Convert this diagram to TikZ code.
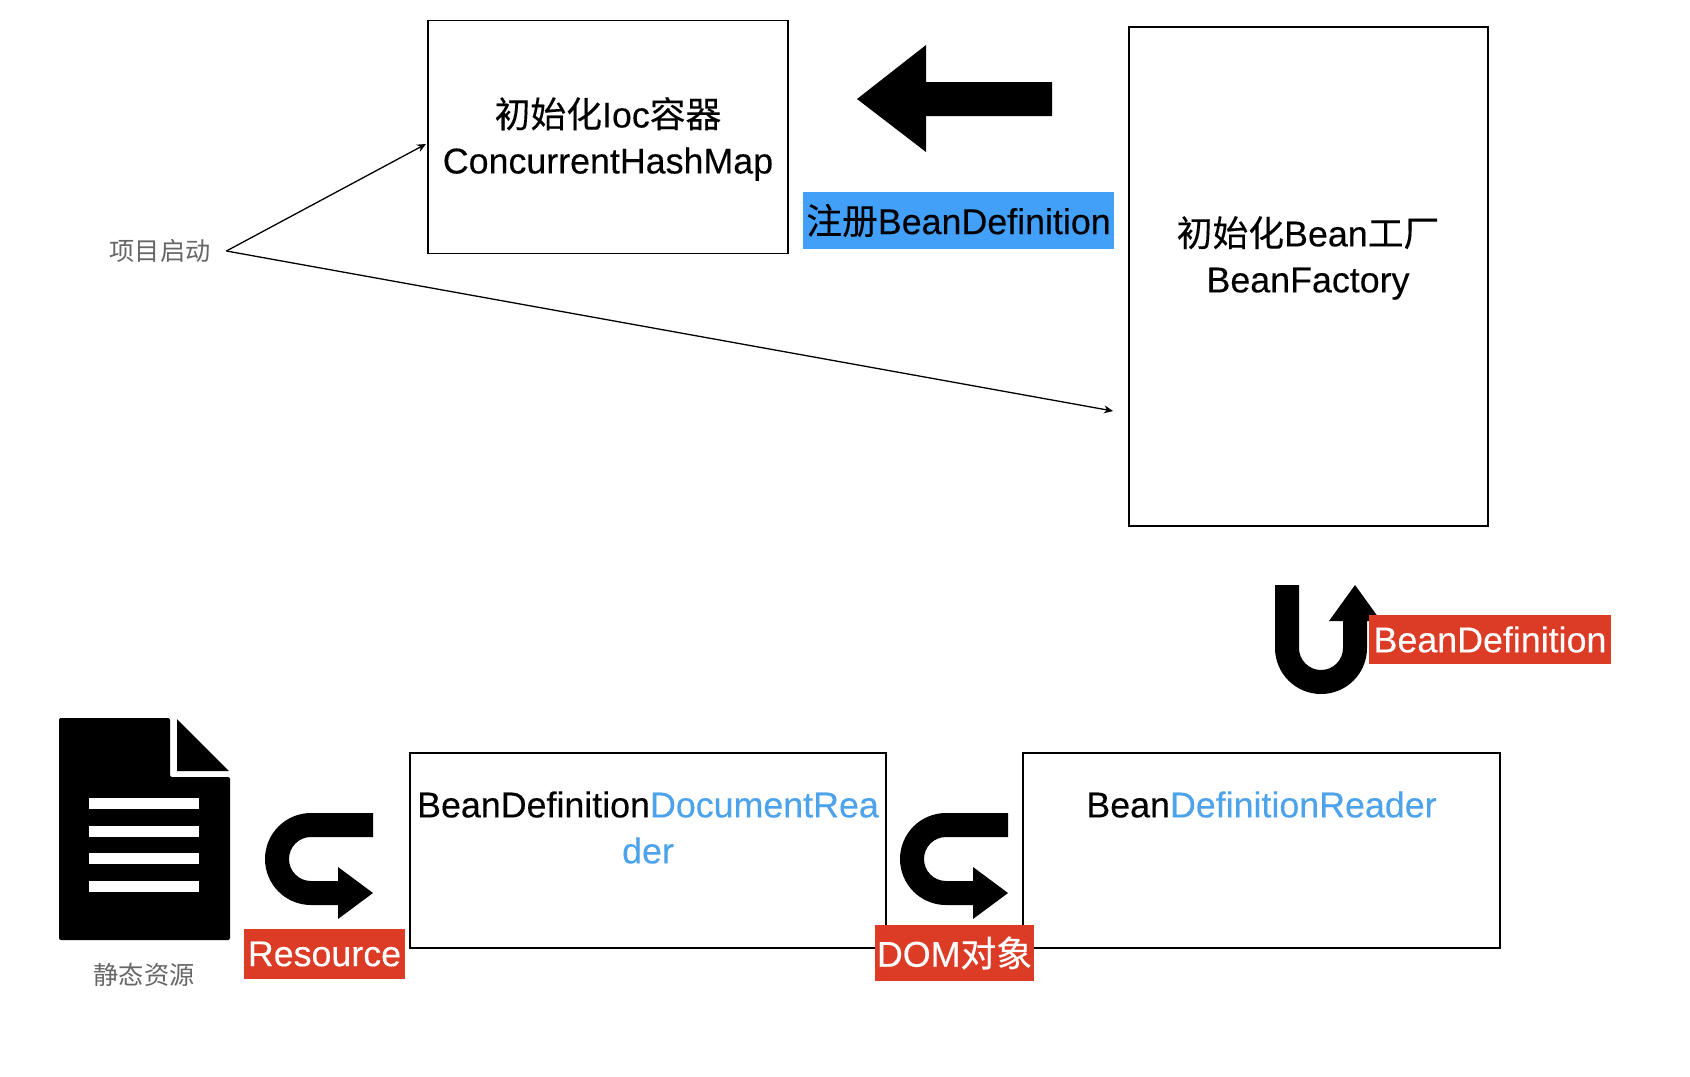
\documentclass[tikz,border=0pt]{standalone}
\usepackage{fontspec}
\setmainfont[FakeBold=0.25]{Liberation Sans}
\newfontfamily\cjk[FakeBold=0.25]{Noto Sans CJK SC}
\newfontfamily\cjkplain{Noto Sans CJK SC}
\usepackage{xcolor}
\usetikzlibrary{arrows.meta,positioning}
\definecolor{tagred}{HTML}{DC3B26}
\definecolor{tagblue}{HTML}{42A0F9}
\definecolor{wordblue}{HTML}{4DA2EC}
\definecolor{notegrey}{HTML}{666666}

\begin{document}
\begin{tikzpicture}[
  x=0.5pt, y=-0.5pt,
  flowbox/.style={draw, line width=0.85pt, inner sep=0pt, outer sep=0pt},
  boxtext/.style={align=center, font=\fontsize{17.9}{23}\selectfont, inner sep=0pt},
  tag/.style={inner sep=0pt, font=\fontsize{17.9}{23}\selectfont},
  note/.style={inner sep=0pt, text=notegrey, font=\fontsize{12.6}{15}\cjkplain},
  arrow/.style={-{Stealth[length=4.5pt,width=4pt]}, line width=0.65pt},
  bentarrow/.pic={
    \fill (62,-46) -- (0,-46) arc[start angle=270, end angle=90, radius=46]
      -- (27,46) -- (27,60) -- (62,34) -- (27,8) -- (27,22) -- (0,22)
      arc[start angle=90, end angle=270, radius=22] -- (62,-22) -- cycle;
  }
]
\useasboundingbox (0,0) rectangle (1690,1076);

\node (ioc) [flowbox, minimum width=180pt, minimum height=116.5pt] at (608,137) {};
\node (factory) [flowbox, minimum width=179.5pt, minimum height=249.5pt] at (1308.5,276.5) {};
\node (docreader) [flowbox, minimum width=238pt, minimum height=97.5pt] at (648,850.5) {};
\node (defreader) [flowbox, minimum width=238.5pt, minimum height=97.5pt] at (1261.5,850.5) {};

\node (iocText) [boxtext] at (608,139) {{\cjk 初始化}Ioc{\cjk 容器}\\ConcurrentHashMap};
\node (factoryText) [boxtext] at (1308,258) {{\cjk 初始化}Bean{\cjk 工厂}\\BeanFactory};
\node (docreaderText) [boxtext, below=19pt of docreader.north] {BeanDefinition\textcolor{wordblue}{DocumentRea}\\\textcolor{wordblue}{der}};
\node (defreaderText) [boxtext, below=19pt of defreader.north] {Bean\textcolor{wordblue}{DefinitionReader}};

\node (start) [note, minimum width=66pt] at (160,251) {项目启动};
\node (staticres) [note] at (144,975) {静态资源};
\coordinate (iocIn) at (426,144);
\coordinate (factoryIn) at (1113,411);
\draw[arrow] (start.east) -- (iocIn);
\draw[arrow] (start.east) -- (factoryIn);

% register arrow
\fill (857,99) -- (926,45) -- (926,82) -- (1052,82) -- (1052,116) -- (926,116) -- (926,152) -- cycle;
\node (register) [tag, fill=tagblue, minimum width=155.5pt, minimum height=28.5pt] at (958.5,220.5) {{\cjk 注册}BeanDefinition};

% document icon
\fill[rounded corners=1pt] (59,718) -- (170,718) -- (170,777) -- (230,777) -- (230,940) -- (59,940) -- cycle;
\fill (177,719) -- (229,771) -- (177,771) -- cycle;
\foreach \y in {798,826,853,881}
  \fill[white] (89,\y) rectangle (199,\y+11);

\pic at (311,859) {bentarrow};
\pic at (946,859) {bentarrow};
\fill (1275,585) -- (1275,648) arc[start angle=180, end angle=0, radius=46]
  -- (1367,621) -- (1381,621) -- (1355,585) -- (1329,621) -- (1343,621) -- (1343,648)
  arc[start angle=0, end angle=180, radius=22] -- (1299,585) -- cycle;

\node (resource) [tag, fill=tagred, text=white, minimum width=80.5pt, minimum height=25pt] at (324.5,954) {Resource};
\node (dom) [tag, fill=tagred, text=white, minimum width=79.5pt, minimum height=28pt] at (954.5,953) {DOM{\cjk 对象}};
\node (beandef) [tag, fill=tagred, text=white, minimum width=121pt, minimum height=24.5pt] at (1490,639.5) {BeanDefinition};
\end{tikzpicture}
\end{document}
